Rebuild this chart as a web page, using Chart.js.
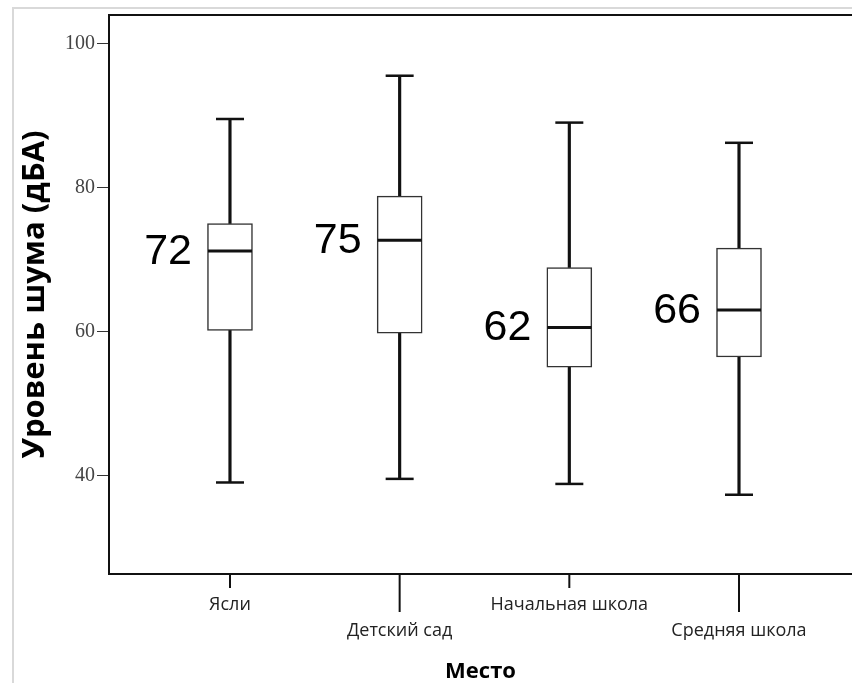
<!DOCTYPE html>
<html>
<head>
<meta charset="utf-8">
<script src="https://cdn.jsdelivr.net/npm/chart.js@4.4.1/dist/chart.umd.min.js"></script>
<style>
  html, body { margin: 0; padding: 0; background: #fff; overflow: hidden; }
  #wrap { width: 852px; height: 683px; position: relative; }
</style>
</head>
<body>
<div id="wrap"><canvas id="c"></canvas></div>
<script>
const categories = ["Ясли", "Детский сад", "Начальная школа", "Средняя школа"];
const mins = [39.1, 39.6, 38.9, 37.4];
const q1s = [60.2, 59.8, 55.1, 56.5];
const medians = [71.2, 72.7, 60.6, 63.0];
const q3s = [75.0, 78.8, 68.9, 71.6];
const maxs = [89.5, 95.5, 89.0, 86.2];
const boxLabels = [72, 75, 62, 66];
const yTicks = [40, 60, 80, 100];

const ink = "#111";

function pts(values) {
  return values.map(function (v, i) { return { x: i, y: v }; });
}
function ranges(lo, hi) {
  return lo.map(function (v, i) { return { x: i, y: [v, hi[i]] }; });
}

// page frame, top border, x ticks/labels and the number labels
const extras = {
  id: "extras",
  beforeDraw: function (chart) {
    const ctx = chart.ctx;
    ctx.save();
    ctx.strokeStyle = "#d9d9d9";
    ctx.lineWidth = 2;
    ctx.beginPath();
    ctx.moveTo(13, chart.height);
    ctx.lineTo(13, 8);
    ctx.lineTo(chart.width, 8);
    ctx.stroke();
    ctx.restore();
  },
  afterDraw: function (chart) {
    const ctx = chart.ctx;
    const area = chart.chartArea;
    const xs = chart.scales.x;
    const ys = chart.scales.y;
    ctx.save();
    ctx.strokeStyle = ink;
    ctx.lineWidth = 2;
    ctx.beginPath();
    ctx.moveTo(area.left, area.top);
    ctx.lineTo(area.right, area.top);
    ctx.stroke();

    ctx.font = "18px 'Open Sans'";
    ctx.fillStyle = "#222";
    ctx.textAlign = "center";
    ctx.textBaseline = "middle";
    categories.forEach(function (name, i) {
      const x = xs.getPixelForValue(i);
      const len = i % 2 ? 38 : 14;
      ctx.beginPath();
      ctx.moveTo(x, area.bottom);
      ctx.lineTo(x, area.bottom + len);
      ctx.stroke();
      ctx.fillText(name, x, area.bottom + (i % 2 ? 57 : 31));
    });

    ctx.font = "43px 'Liberation Sans'";
    ctx.fillStyle = "#000";
    ctx.textAlign = "right";
    boxLabels.forEach(function (v, i) {
      const x = xs.getPixelForValue(i) - 22 - 16;
      const y = ys.getPixelForValue(medians[i]);
      ctx.fillText(String(v), x, y + 1);
    });
    ctx.restore();
  }
};

new Chart(document.getElementById("c"), {
  type: "bar",
  data: {
    datasets: [
      {
        type: "line", label: "median", data: pts(medians), showLine: false,
        pointStyle: "line", pointRadius: 22, pointBorderWidth: 3,
        borderColor: ink, order: 0
      },
      {
        type: "line", label: "caps", data: pts(mins).concat(pts(maxs)), showLine: false,
        pointStyle: "line", pointRadius: 14, pointBorderWidth: 2.5,
        borderColor: ink, order: 1
      },
      {
        label: "box", data: ranges(q1s, q3s), grouped: false,
        barThickness: 45, backgroundColor: "#fff", borderColor: "#333",
        borderWidth: 1.5, borderSkipped: false, order: 2
      },
      {
        label: "low", data: ranges(mins, q1s), grouped: false,
        barThickness: 2.5, backgroundColor: ink, borderWidth: 0, order: 3
      },
      {
        label: "high", data: ranges(q3s, maxs), grouped: false,
        barThickness: 2.5, backgroundColor: ink, borderWidth: 0, order: 3
      }
    ]
  },
  options: {
    responsive: true,
    maintainAspectRatio: false,
    animation: false,
    layout: { autoPadding: false, padding: { top: 15, right: 0, left: 0, bottom: 0 } },
    plugins: { legend: { display: false }, tooltip: { enabled: false } },
    scales: {
      x: {
        type: "linear",
        offset: false,
        min: -0.713,
        max: 3.666,
        ticks: { display: false },
        grid: { display: false, offset: false },
        border: { display: true, color: ink, width: 2 },
        title: {
          display: true, text: "Место", color: "#000",
          font: { family: "'Open Sans'", size: 22, weight: "bold" },
          padding: { top: 0, bottom: -2 }
        },
        afterFit: function (s) { s.height = 109; }
      },
      y: {
        min: 26.41,
        max: 103.92,
        afterBuildTicks: function (s) {
          s.ticks = yTicks.map(function (v) { return { value: v }; });
        },
        ticks: {
          color: "#444", padding: 2,
          font: { family: "'Liberation Serif'", size: 20 }
        },
        grid: { drawOnChartArea: false, tickLength: 12, tickColor: "#333", tickWidth: 1 },
        border: { display: true, color: ink, width: 2 },
        title: {
          display: true, text: "Уровень шума (дБА)", color: "#000",
          font: { family: "'Open Sans'", size: 31, weight: "bold" },
          padding: { top: 17, bottom: 0 }
        },
        afterFit: function (s) { s.width = 109; }
      }
    }
  },
  plugins: [extras]
});
</script>
</body>
</html>
